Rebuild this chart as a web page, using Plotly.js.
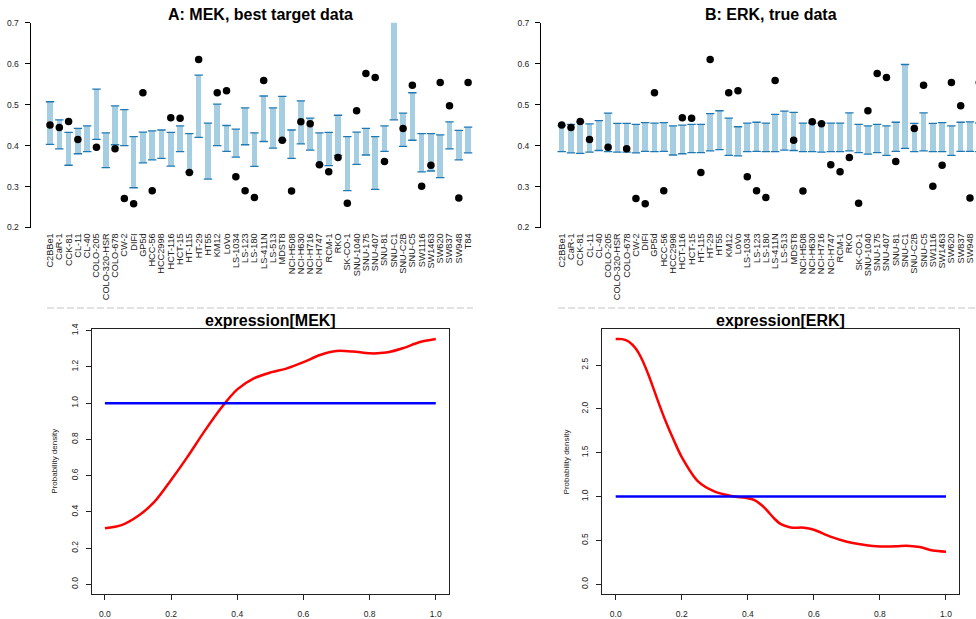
<!DOCTYPE html>
<html>
<head>
<meta charset="utf-8">
<script src="https://cdn.plot.ly/plotly-3.0.1.min.js"></script>
<style>html,body{margin:0;padding:0;background:#fff}#chart{width:976px;height:619px}</style>
</head>
<body>
<div id="chart"></div>
<script>
const cellLines = ["C2BBe1","CaR-1","CCK-81","CL-11","CL-40","COLO-205","COLO-320-HSR","COLO-678","CW-2","DIFI","GP5d","HCC-56","HCC2998","HCT-116","HCT-15","HT-115","HT-29","HT55","KM12","LoVo","LS-1034","LS-123","LS-180","LS-411N","LS-513","MDST8","NCI-H508","NCI-H630","NCI-H716","NCI-H747","RCM-1","RKO","SK-CO-1","SNU-1040","SNU-175","SNU-407","SNU-81","SNU-C1","SNU-C2B","SNU-C5","SW1116","SW1463","SW620","SW837","SW948","T84"];

const mekHigh = [0.507,0.463,0.432,0.442,0.448,0.538,0.431,0.497,0.488,0.422,0.433,0.436,0.438,0.432,0.448,0.429,0.572,0.455,0.501,0.449,0.440,0.492,0.431,0.521,0.492,0.520,0.438,0.509,0.467,0.431,0.432,0.474,0.422,0.433,0.442,0.422,0.448,0.75,0.479,0.529,0.429,0.429,0.426,0.458,0.437,0.445];
const mekLow = [0.403,0.392,0.352,0.380,0.385,0.415,0.346,0.402,0.400,0.297,0.358,0.365,0.369,0.350,0.385,0.335,0.420,0.318,0.400,0.386,0.372,0.402,0.349,0.410,0.394,0.413,0.369,0.404,0.389,0.353,0.351,0.376,0.290,0.354,0.377,0.293,0.386,0.463,0.398,0.413,0.336,0.338,0.322,0.392,0.365,0.382];

const erkHigh = [0.449,0.452,0.458,0.453,0.461,0.479,0.454,0.454,0.452,0.456,0.455,0.456,0.448,0.450,0.452,0.452,0.478,0.485,0.467,0.446,0.455,0.457,0.455,0.476,0.484,0.481,0.455,0.455,0.455,0.455,0.455,0.480,0.452,0.448,0.452,0.448,0.457,0.598,0.454,0.480,0.454,0.456,0.448,0.457,0.458,0.455];
const erkLow = [0.385,0.382,0.381,0.384,0.388,0.385,0.384,0.384,0.382,0.386,0.385,0.386,0.377,0.380,0.383,0.383,0.387,0.390,0.376,0.375,0.385,0.386,0.385,0.385,0.389,0.388,0.385,0.385,0.384,0.385,0.385,0.387,0.383,0.379,0.383,0.376,0.386,0.393,0.385,0.387,0.385,0.385,0.376,0.386,0.386,0.385];

const trueVals = [0.450,0.444,0.459,0.415,null,0.396,null,0.392,0.271,0.258,0.529,0.290,null,0.468,0.467,0.334,0.610,null,0.529,0.534,0.324,0.290,0.273,0.559,null,0.413,0.289,0.458,0.453,0.353,0.336,0.371,0.259,0.485,0.576,0.566,0.361,null,0.442,0.547,0.301,0.352,0.554,0.497,0.272,0.554];

const mekX = [0,0.05,0.1,0.15,0.2,0.25,0.3,0.35,0.4,0.45,0.5,0.55,0.6,0.65,0.7,0.75,0.8,0.85,0.9,0.95,1.0];
const mekDens = [0.309,0.327,0.377,0.456,0.576,0.705,0.843,0.971,1.076,1.137,1.169,1.192,1.226,1.266,1.288,1.285,1.275,1.279,1.303,1.336,1.354];

const erkX = [0,0.02,0.04,0.06,0.08,0.1,0.125,0.15,0.175,0.2,0.25,0.3,0.35,0.4,0.42,0.45,0.48,0.5,0.53,0.57,0.6,0.65,0.7,0.75,0.8,0.85,0.88,0.92,0.96,1.0];
const erkDens = [2.797,2.795,2.765,2.69,2.56,2.38,2.12,1.87,1.65,1.45,1.17,1.056,1.007,0.98,0.96,0.875,0.75,0.685,0.648,0.645,0.622,0.543,0.486,0.452,0.432,0.433,0.44,0.425,0.385,0.372];

const uniformX = [0,1];
const uniformY = [1,1];

const W = 976, H = 619;
const px = v => v / W;
const py = v => 1 - v / H;
const FONT = "Liberation Sans, Arial, Helvetica, sans-serif";
const idx = cellLines.map((_, i) => i);

function rangeTraces(low, high, xa, ya) {
  const t = [];
  t.push({type: 'bar', x: idx, y: high.map((h, i) => h - low[i]), base: low, width: 0.6,
    marker: {color: '#a6cee3', line: {width: 0}}, xaxis: xa, yaxis: ya, hoverinfo: 'skip'});
  t.push({type: 'scatter', mode: 'markers', x: idx.concat(idx), y: low.concat(high),
    marker: {symbol: 'line-ew', size: 6, color: '#1f78b4', line: {color: '#1f78b4', width: 1.3}},
    xaxis: xa, yaxis: ya, hoverinfo: 'skip'});
  t.push({type: 'scatter', mode: 'markers', x: idx, y: trueVals,
    marker: {symbol: 'circle', size: 7.5, color: '#000'}, xaxis: xa, yaxis: ya});
  return t;
}

const data = [].concat(
  rangeTraces(mekLow, mekHigh, 'x', 'y'),
  rangeTraces(erkLow, erkHigh, 'x2', 'y2'),
  [
    {type: 'scatter', mode: 'lines', x: mekX, y: mekDens, line: {color: '#ff0000', width: 2.5, shape: 'spline', smoothing: 0.8}, xaxis: 'x3', yaxis: 'y3'},
    {type: 'scatter', mode: 'lines', x: uniformX, y: uniformY, line: {color: '#0000ff', width: 2.5}, xaxis: 'x3', yaxis: 'y3'},
    {type: 'scatter', mode: 'lines', x: erkX, y: erkDens, line: {color: '#ff0000', width: 2.5, shape: 'spline', smoothing: 0.8}, xaxis: 'x4', yaxis: 'y4'},
    {type: 'scatter', mode: 'lines', x: uniformX, y: uniformY, line: {color: '#0000ff', width: 2.5}, xaxis: 'x4', yaxis: 'y4'}
  ]
);

const tickFont = {family: FONT, size: 8.5, color: '#222'};
const catFont = {family: FONT, size: 9.2, color: '#222'};

const topY = {
  domain: [py(227.5), py(22.7)], range: [0.2, 0.7], showgrid: false, zeroline: false,
  showline: true, linecolor: '#000', linewidth: 1, ticks: 'outside', ticklen: 5, tickcolor: '#000',
  tickvals: [0.2,0.3,0.4,0.5,0.6,0.7], tickformat: '.1f', tickfont: tickFont, ticklabelstandoff: 4
};
const topX = {
  showgrid: false, zeroline: false, showline: false, ticks: '',
  tickvals: idx, ticktext: cellLines, tickangle: -90, tickfont: catFont, ticklabelstandoff: 3
};

const botY = (dom, rng, vals) => ({
  domain: dom, range: rng, showgrid: false, zeroline: false,
  showline: true, mirror: true, linecolor: '#222', linewidth: 1, ticks: 'outside', ticklen: 5, tickcolor: '#222',
  tickvals: vals, tickformat: '.1f', tickangle: -90, tickfont: tickFont, ticklabelstandoff: 4
});
const botX = (dom, rng) => ({
  domain: dom, range: rng, showgrid: false, zeroline: false,
  showline: true, mirror: true, linecolor: '#222', linewidth: 1, ticks: 'outside', ticklen: 5, tickcolor: '#222',
  tickvals: [0,0.2,0.4,0.6,0.8,1.0], tickformat: '.1f', tickfont: tickFont, ticklabelstandoff: 6
});

const layout = {
  width: W, height: H, margin: {l: 0, r: 0, t: 0, b: 0}, showlegend: false,
  paper_bgcolor: '#fff', plot_bgcolor: '#fff', bargap: 0,
  font: {family: FONT, color: '#000'},
  xaxis: Object.assign({}, topX, {domain: [px(30.5), px(489)], range: [-2.1, 47.25], anchor: 'y'}),
  yaxis: Object.assign({}, topY, {anchor: 'x'}),
  xaxis2: Object.assign({}, topX, {domain: [px(541), 1], range: [-2.23, 44.65], anchor: 'y2'}),
  yaxis2: Object.assign({}, topY, {anchor: 'x2'}),
  xaxis3: Object.assign(botX([px(91.7), px(449)], [-0.04, 1.04]), {anchor: 'y3'}),
  yaxis3: Object.assign(botY([py(594.3), py(329.3)], [-0.0552, 1.4077], [0,0.2,0.4,0.6,0.8,1.0,1.2,1.4]), {anchor: 'x3'}),
  xaxis4: Object.assign(botX([px(601.7), px(959.3)], [-0.0424, 1.0403]), {anchor: 'y4'}),
  yaxis4: Object.assign(botY([py(594.3), py(329.3)], [-0.114, 2.907], [0,0.5,1.0,1.5,2.0,2.5]), {anchor: 'x4'}),
  shapes: [
    {type: 'line', xref: 'paper', yref: 'paper', x0: px(47), x1: px(473), y0: py(308), y1: py(308), line: {color: '#c4c4c4', width: 1, dash: '7px,3px'}},
    {type: 'line', xref: 'paper', yref: 'paper', x0: px(558), x1: 1, y0: py(308), y1: py(308), line: {color: '#c4c4c4', width: 1, dash: '7px,3px'}}
  ],
  annotations: [
    {text: '<b>A: MEK, best target data</b>', xref: 'paper', yref: 'paper', x: px(260), y: py(14), xanchor: 'center', yanchor: 'middle', showarrow: false, font: {family: FONT, size: 16, color: '#000'}},
    {text: '<b>B: ERK, true data</b>', xref: 'paper', yref: 'paper', x: px(770.5), y: py(14), xanchor: 'center', yanchor: 'middle', showarrow: false, font: {family: FONT, size: 16, color: '#000'}},
    {text: '<b>expression[MEK]</b>', xref: 'paper', yref: 'paper', x: px(270), y: py(320), xanchor: 'center', yanchor: 'middle', showarrow: false, font: {family: FONT, size: 16, color: '#000'}},
    {text: '<b>expression[ERK]</b>', xref: 'paper', yref: 'paper', x: px(780.5), y: py(320), xanchor: 'center', yanchor: 'middle', showarrow: false, font: {family: FONT, size: 16, color: '#000'}},
    {text: 'Probability density', xref: 'paper', yref: 'paper', x: px(55), y: py(461.7), xanchor: 'center', yanchor: 'middle', textangle: -90, showarrow: false, font: {family: FONT, size: 8, color: '#222'}},
    {text: 'Probability density', xref: 'paper', yref: 'paper', x: px(566.7), y: py(461.7), xanchor: 'center', yanchor: 'middle', textangle: -90, showarrow: false, font: {family: FONT, size: 8, color: '#222'}}
  ]
};

Plotly.newPlot('chart', data, layout, {displayModeBar: false, staticPlot: true});
</script>
</body>
</html>
